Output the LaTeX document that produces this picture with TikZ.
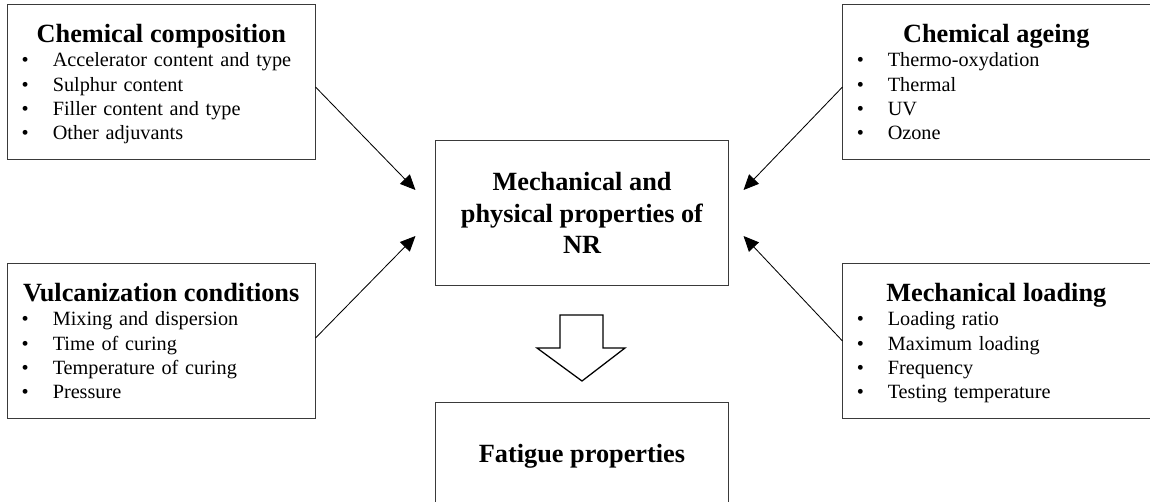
\documentclass[tikz,border=0pt]{standalone}
\usepackage{fontspec}
\setmainfont{Liberation Serif}
\usepackage{tikz}
\usetikzlibrary{arrows.meta,positioning,calc}
\definecolor{edge}{HTML}{3A3A3A}
\newcommand{\titlefont}{\fontsize{18.7pt}{22.4pt}\selectfont\bfseries}
\newcommand{\itemfont}{\fontsize{14.4pt}{17.3pt}\selectfont}
\newcommand{\factortitle}[1]{{\titlefont\centering #1\par}}
\newcommand{\factoritem}[1]{\par\noindent\makebox[0.775cm][l]{\textbullet}#1}
\tikzset{
  factorbox/.style={
    rectangle, draw=edge, line width=0.7pt,
    minimum width=#1, minimum height=3.85cm,
    inner sep=0pt
  },
  factorbox/.default=7.675cm,
  factortext/.style={
    anchor=base west, text width=6.975cm,
    inner sep=0pt, font=\itemfont
  },
  propbox/.style={
    rectangle, draw=edge, line width=0.7pt,
    minimum width=7.3cm, align=center,
    font=\titlefont, inner sep=0pt
  },
  influence/.style={
    -{Triangle[length=0.38cm,width=0.34cm]}, line width=0.6pt, color=#1
  },
  influence/.default=black,
  bigarrow/.style={draw=black, line width=0.9pt, fill=white, line join=miter},
}

\begin{document}
\begin{tikzpicture}[x=0.025cm, y=-0.025cm]
\useasboundingbox (0,0) rectangle (1150,501);

% factor boxes
\node[factorbox] (comp) at (161.5,82) {};
\node[factortext] (comptext) at ($(comp.north west)+(14,38)$) {%
  \factortitle{Chemical composition}
  \factoritem{Accelerator content and type}
  \factoritem{Sulphur content}
  \factoritem{Filler content and type}
  \factoritem{Other adjuvants}};

\node[factorbox=7.7cm] (ageing) at (997,82) {};
\node[factortext] (ageingtext) at ($(ageing.north west)+(14,38)$) {%
  \factortitle{Chemical ageing}
  \factoritem{Thermo-oxydation}
  \factoritem{Thermal}
  \factoritem{UV}
  \factoritem{Ozone}};

\node[factorbox] (vulc) at (161.5,341) {};
\node[factortext] (vulctext) at ($(vulc.north west)+(14,38)$) {%
  \factortitle{Vulcanization conditions}
  \factoritem{Mixing and dispersion}
  \factoritem{Time of curing}
  \factoritem{Temperature of curing}
  \factoritem{Pressure}};

\node[factorbox=7.7cm] (loading) at (997,341) {};
\node[factortext] (loadingtext) at ($(loading.north west)+(14,38)$) {%
  \factortitle{Mechanical loading}
  \factoritem{Loading ratio}
  \factoritem{Maximum loading}
  \factoritem{Frequency}
  \factoritem{Testing temperature}};

% properties
\node[propbox, minimum height=3.6cm] (prop) at (582,213)
  {Mechanical and\\physical properties of\\NR};
\node[propbox, minimum height=2.7cm] (fatigue) at (582,456) {Fatigue properties};

\draw[influence] ([yshift=-0.125cm]comp.east) -- ([xshift=-0.5cm,yshift=0.575cm]prop.west);
\draw[influence] ([yshift=0.075cm]vulc.east) -- ([xshift=-0.5cm,yshift=-0.575cm]prop.west);
\draw[influence] ([yshift=-0.125cm]ageing.west) -- ([xshift=0.375cm,yshift=0.575cm]prop.east);
\draw[influence] (loading.west) -- ([xshift=0.375cm,yshift=-0.575cm]prop.east);

% hollow arrow
\draw[bigarrow] (560,315) -- (603,315) -- (603,348) -- (625,348)
  -- (582,381) -- (537,348) -- (560,348) -- cycle;
\end{tikzpicture}
\end{document}
